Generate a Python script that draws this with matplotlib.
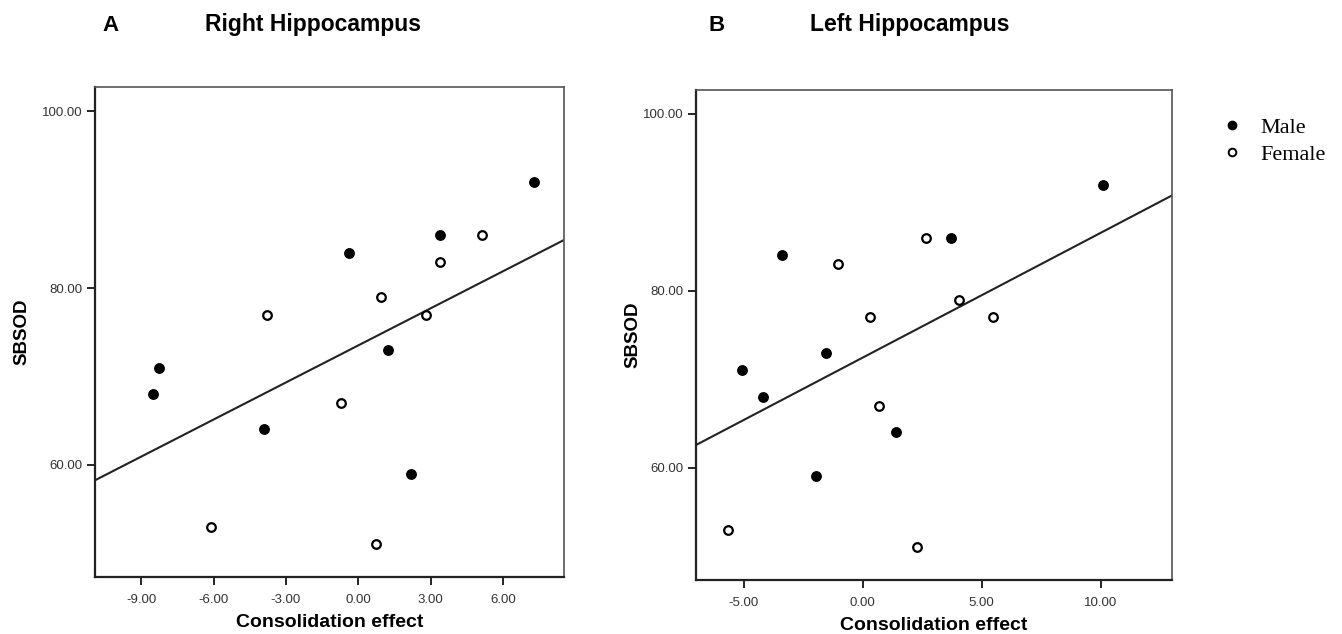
import numpy as np
import matplotlib
matplotlib.use("Agg")
import matplotlib.pyplot as plt
from matplotlib.lines import Line2D

plt.rcParams['font.family'] = ['Liberation Sans', 'DejaVu Sans']

# SBSOD scores (same subjects in both panels)
sbsod_male = [92, 86, 84, 73, 71, 68, 64, 59]
sbsod_female = [86, 83, 79, 77, 77, 67, 53, 51]

# consolidation effect, right hippocampus
right_male = [7.3, 3.4, -0.4, 1.25, -8.25, -8.5, -3.9, 2.2]
right_female = [5.15, 3.4, 0.95, -3.8, 2.8, -0.7, -6.1, 0.75]

# consolidation effect, left hippocampus
left_male = [10.1, 3.7, -3.4, -1.55, -5.05, -4.2, 1.4, -1.95]
left_female = [2.65, -1.05, 4.05, 0.3, 5.5, 0.7, -5.65, 2.3]

yticks = [60, 80, 100]
right_xticks = [-9, -6, -3, 0, 3, 6]
left_xticks = [-5, 0, 5, 10]

fig = plt.figure(figsize=(13.42, 6.34), dpi=100)
ax1 = fig.add_axes([0.0708, 0.0899, 0.3491, 0.7721])
ax2 = fig.add_axes([0.5186, 0.0852, 0.3547, 0.7729])


def draw_panel(ax, xm, xf, xlim, xticks):
    x_all = np.array(xm + xf)
    y_all = np.array(sbsod_male + sbsod_female)
    slope, icpt = np.polyfit(x_all, y_all, 1)
    xs = np.array(xlim)
    ax.plot(xs, slope * xs + icpt, color='#222222', lw=1.5, zorder=2)
    ax.plot(xm, sbsod_male, 'o', ms=6.8, mfc='black', mec='black', mew=1.0, zorder=3)
    ax.plot(xf, sbsod_female, 'o', ms=6.2, mfc='white', mec='black', mew=1.6, zorder=3)
    ax.set_xlim(xlim)
    ax.set_ylim(47.3, 102.7)
    ax.set_xticks(xticks)
    ax.set_xticklabels([f"{t:.2f}" for t in xticks])
    ax.set_yticks(yticks)
    ax.set_yticklabels([f"{t:.2f}" for t in yticks])
    ax.tick_params(direction='out', length=6, width=1.2, labelsize=9.5,
                   labelcolor='#333333', pad=3)
    ax.tick_params(axis='x', pad=6)
    for side in ['left', 'bottom']:
        ax.spines[side].set_linewidth(1.6)
        ax.spines[side].set_color('#222222')
    for side in ['top', 'right']:
        ax.spines[side].set_linewidth(1.2)
        ax.spines[side].set_color('#555555')
    ax.set_xlabel('Consolidation effect', fontsize=14, fontweight='bold', labelpad=6)


draw_panel(ax1, right_male, right_female, (-10.92, 8.51), right_xticks)
draw_panel(ax2, left_male, left_female, (-7.0, 13.0), left_xticks)

ax1.set_ylabel('SBSOD', fontsize=13.5, fontweight='bold', labelpad=8)
ax2.set_ylabel('SBSOD', fontsize=13.5, fontweight='bold', labelpad=1)

fig.text(102 / 1342, 1 - 31 / 634, 'A', fontsize=16, fontweight='bold', va='baseline')
fig.text(205 / 1342, 1 - 31 / 634, 'Right Hippocampus', fontsize=16.5,
         fontweight='bold', va='baseline')
fig.text(708 / 1342, 1 - 31 / 634, 'B', fontsize=16, fontweight='bold', va='baseline')
fig.text(810 / 1342, 1 - 31 / 634, 'Left Hippocampus', fontsize=16.5,
         fontweight='bold', va='baseline')

handles = [
    Line2D([], [], ls='none', marker='o', ms=6, mfc='black', mec='black'),
    Line2D([], [], ls='none', marker='o', ms=5.5, mfc='white', mec='black', mew=1.4),
]
fig.legend(handles, ['Male', 'Female'], loc='upper left',
           bbox_to_anchor=(1210 / 1342, 1 - 106 / 634), frameon=False,
           prop={'family': 'Liberation Serif', 'size': 16},
           handlelength=1.0, handletextpad=0.75, labelspacing=0.3, borderpad=0)

fig.savefig('out.png', dpi=100)
